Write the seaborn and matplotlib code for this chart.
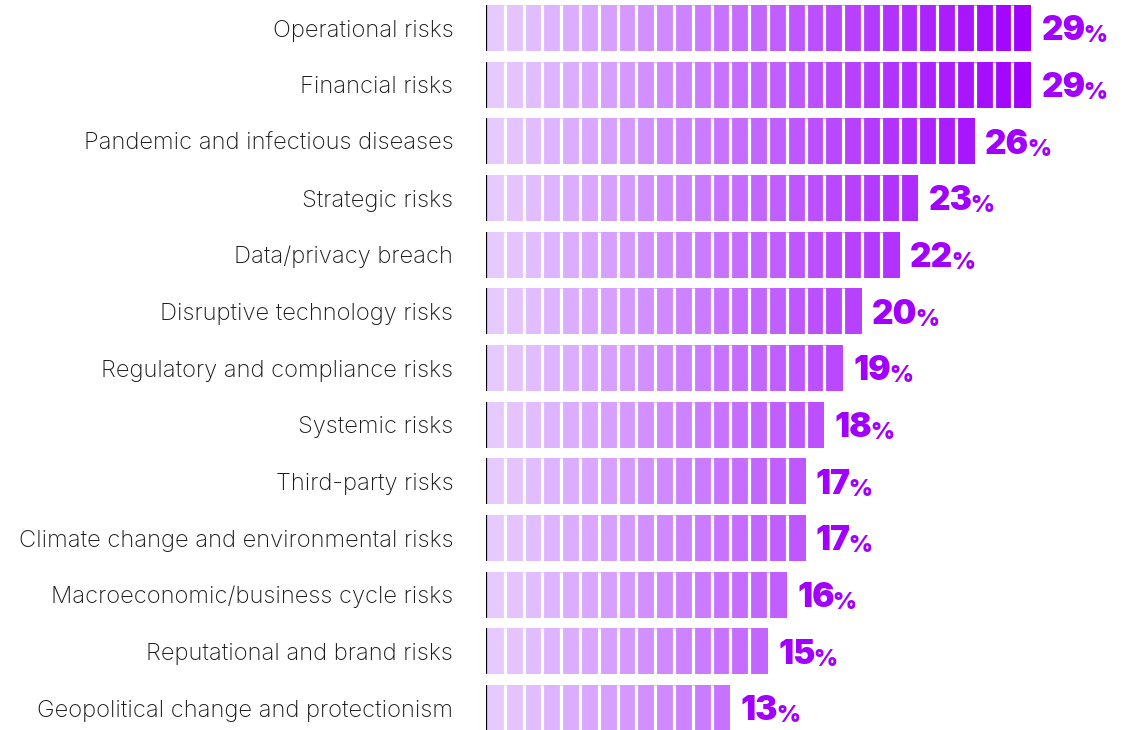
import numpy as np
import pandas as pd
import matplotlib
matplotlib.use("Agg")
import matplotlib.pyplot as plt
import seaborn as sns
from matplotlib.colors import to_hex

categories = [
    "Operational risks",
    "Financial risks",
    "Pandemic and infectious diseases",
    "Strategic risks",
    "Data/privacy breach",
    "Disruptive technology risks",
    "Regulatory and compliance risks",
    "Systemic risks",
    "Third-party risks",
    "Climate change and environmental risks",
    "Macroeconomic/business cycle risks",
    "Reputational and brand risks",
    "Geopolitical change and protectionism",
]
values = [29, 29, 26, 23, 22, 20, 19, 18, 17, 17, 16, 15, 13]

sns.set_theme(style="white")
plt.rcParams["font.family"] = ["Inter", "DejaVu Sans"]

W, H, DPI = 1127, 730, 100
fig = plt.figure(figsize=(W / DPI, H / DPI), dpi=DPI)
left_px = 486
unit_px = 18.8
ax = fig.add_axes([left_px / W, 0, (W - left_px) / W, 1])

vmax = max(values)
light = np.array([230, 202, 255]) / 255
dark = np.array([161, 0, 255]) / 255
seg_colors = [to_hex(light + (dark - light) * i / (vmax - 1)) for i in range(vmax)]

df = pd.DataFrame({"category": categories, "value": values})
bar_h = 0.81
for k in range(vmax, 0, -1):
    sub = df.copy()
    sub["seg"] = np.where(sub["value"] >= k, k, 0)
    sns.barplot(data=sub, x="seg", y="category", order=categories, orient="h",
                color=seg_colors[k - 1], width=bar_h, saturation=1, ax=ax,
                edgecolor="none", linewidth=0)

for i, v in enumerate(values):
    ax.vlines(np.arange(1, v), i - bar_h / 2, i + bar_h / 2, color="white", lw=2.3)
    ax.vlines(0, i - bar_h / 2, i + bar_h / 2, color="black", lw=1.6)

ax.set_xlim(0, (W - left_px) / unit_px)
s = 680 / 12
ax.set_ylim(12 + 22 / s, -28 / s)
ax.set_xlabel("")
ax.set_ylabel("")
ax.set_xticks([])
for sp in ax.spines.values():
    sp.set_visible(False)
ax.tick_params(axis="y", length=0, pad=23.5)
ax.set_yticks(range(len(categories)))
ax.set_yticklabels(categories, fontsize=17.1, color="#1a1a1a", fontweight="light")

fig.canvas.draw()
renderer = fig.canvas.get_renderer()
for i, v in enumerate(values):
    t = ax.text(v + 0.55, i + 0.06, str(v), fontsize=24, fontweight="black",
                family=["Inter", "DejaVu Sans"],
                color="#A100FF", ha="left", va="center")
    bb = t.get_window_extent(renderer)
    ax.annotate("%", xy=(bb.x1, bb.y0), xycoords="figure pixels",
                xytext=(-1.5, 0), textcoords="offset points",
                fontsize=16.5, fontweight="black", family=["Inter", "DejaVu Sans"],
                color="#A100FF", ha="left", va="bottom")

fig.savefig("out.png", dpi=DPI)
